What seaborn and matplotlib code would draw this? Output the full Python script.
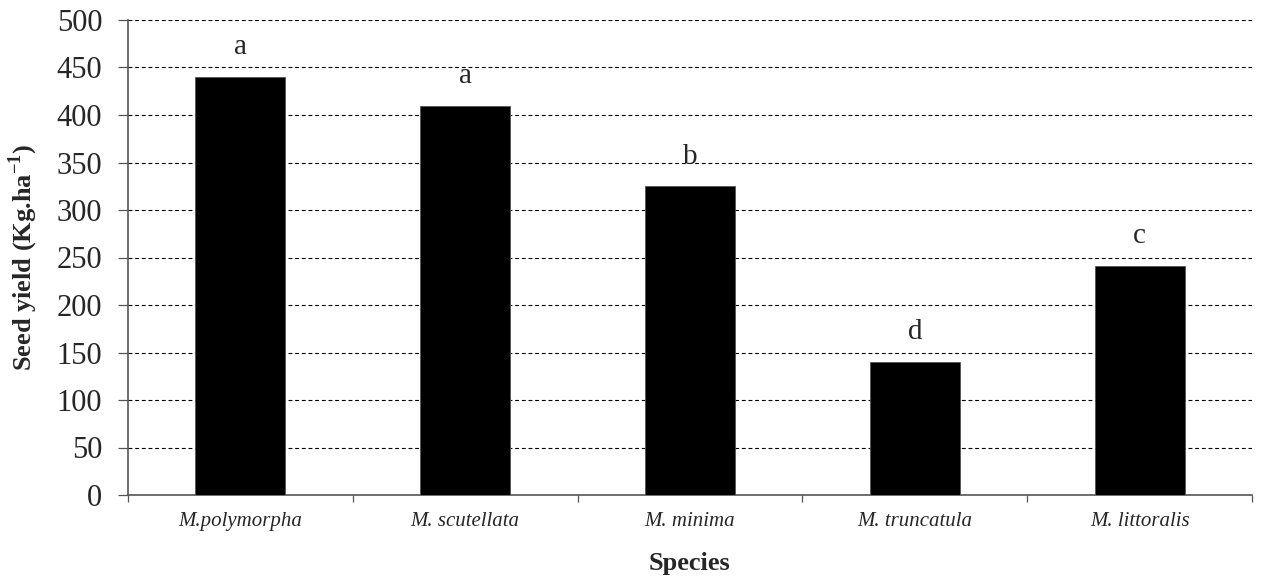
import matplotlib
matplotlib.use("Agg")
import matplotlib.pyplot as plt
import seaborn as sns

species = ["M.polymorpha", "M. scutellata", "M. minima", "M. truncatula", "M. littoralis"]
seed_yield = [440, 410, 325, 140, 241]
letters = ["a", "a", "b", "d", "c"]


def main():
    sns.set_style("white")
    plt.rcParams["font.family"] = ["Liberation Serif", "DejaVu Serif"]
    plt.rcParams["mathtext.fontset"] = "custom"
    plt.rcParams["mathtext.rm"] = "Liberation Serif"
    plt.rcParams["mathtext.bf"] = "Liberation Serif:bold"

    fig = plt.figure(figsize=(12.63, 5.79), dpi=100)
    # axes box: x 128..1252 px, y 20..495 px
    ax = fig.add_axes([128 / 1263, 84 / 579, 1124 / 1263, 475 / 579])

    sns.barplot(x=species, y=seed_yield, color="black", width=0.40,
                saturation=1, edgecolor="#555555", linewidth=0.6, ax=ax, zorder=3)

    for i, (v, t) in enumerate(zip(seed_yield, letters)):
        ax.annotate(t, (i, v), xytext=(0, 12), textcoords="offset points",
                    ha="center", va="bottom", fontsize=21)

    ax.set_ylim(0, 500)
    ax.set_xlim(-0.5, 4.5)
    ax.set_yticks(range(0, 501, 50))
    ax.yaxis.grid(True, linestyle=(0, (3.5, 2.5)), color="black", linewidth=0.8, zorder=0)
    ax.tick_params(axis="y", labelsize=22, length=7.5, width=0.9, color="#555555", pad=11, left=True)

    ax.set_xticks(range(len(species)))
    ax.set_xticklabels(species, fontsize=15, fontstyle="italic")
    ax.set_xticks([i - 0.5 for i in range(len(species) + 1)], minor=True)
    ax.tick_params(axis="x", which="major", length=0, pad=12)
    ax.tick_params(axis="x", which="minor", length=5, width=0.9, color="#555555", bottom=True)

    for s in ["top", "right"]:
        ax.spines[s].set_visible(False)
    for s in ["left", "bottom"]:
        ax.spines[s].set_color("#555555")
        ax.spines[s].set_linewidth(1.2)

    ax.set_ylabel("Seed yield (Kg.ha$^{\\mathbf{-1}}$)", fontsize=19, fontweight="bold")
    ax.set_xlabel("Species", fontsize=19, fontweight="bold")
    ax.yaxis.set_label_coords(-0.078, 0.5)
    ax.xaxis.set_label_coords(0.5, -0.12)

    fig.savefig("out.png", dpi=100)
    plt.close(fig)


if __name__ == "__main__":
    main()
